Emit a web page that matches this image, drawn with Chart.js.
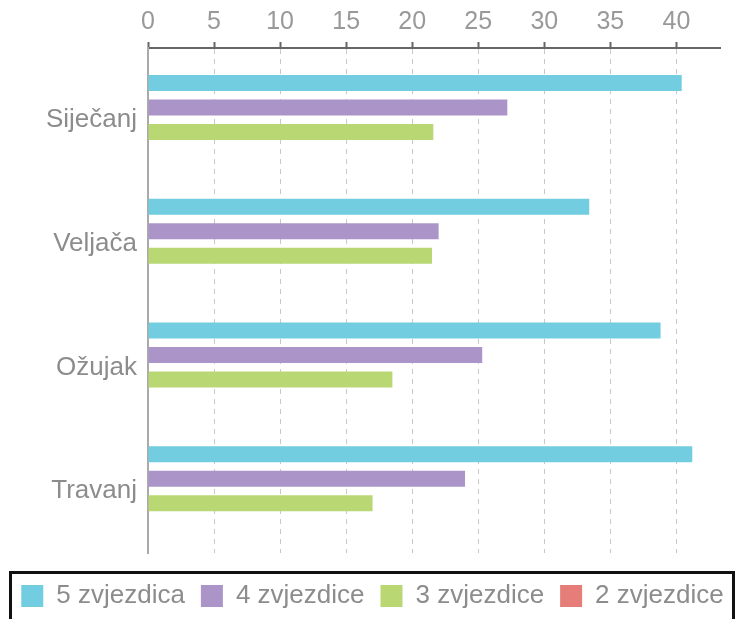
<!DOCTYPE html>
<html>
<head>
<meta charset="utf-8">
<script src="https://cdn.jsdelivr.net/npm/chart.js@4"></script>
<style>
    html, body { margin: 0; padding: 0; background: #fff; }
</style>
</head>
<body>
<canvas id="myChart" width="745" height="619"></canvas>
<script>
let months = ['Siječanj', 'Veljača', 'Ožujak', 'Travanj'];
let seriesNames = ['5 zvjezdica', '4 zvjezdice', '3 zvjezdice', '2 zvjezdice'];
let fiveStars = [40.4, 33.4, 38.8, 41.2];
let fourStars = [27.2, 22.0, 25.3, 24.0];
let threeStars = [21.6, 21.5, 18.5, 17.0];
let twoStars = [0, 0, 0, 0];
let seriesColors = ['#72cde0', '#ab94c8', '#b9d873', '#e77d79'];

const fontFamily = '"Liberation Sans", Arial, sans-serif';

// black frame round the legend
const legendFrame = {
    id: 'legendFrame',
    afterDraw(chart) {
        let ctx = chart.ctx;
        let lg = chart.legend;
        ctx.save();
        ctx.strokeStyle = '#111';
        ctx.lineWidth = 3;
        ctx.strokeRect(lg.left + 10.5, lg.top + 19.5, lg.width - 22, 80);
        ctx.restore();
    }
};

const ctx = document.getElementById('myChart');
new Chart(ctx, {
    type: 'bar',
    data: {
        labels: months,
        datasets: [
            { label: seriesNames[0], data: fiveStars, backgroundColor: seriesColors[0], borderWidth: 0 },
            { label: seriesNames[1], data: fourStars, backgroundColor: seriesColors[1], borderWidth: 0 },
            { label: seriesNames[2], data: threeStars, backgroundColor: seriesColors[2], borderWidth: 0 },
            { label: seriesNames[3], data: twoStars, backgroundColor: seriesColors[3], borderWidth: 0 }
        ]
    },
    options: {
        indexAxis: 'y',
        responsive: false,
        animation: false,
        maintainAspectRatio: false,
        devicePixelRatio: 1,
        categoryPercentage: 0.792,
        barPercentage: 0.653,
        layout: { padding: 0 },
        plugins: {
            tooltip: { enabled: false },
            legend: {
                position: 'bottom',
                title: { display: true, text: ' ', font: { size: 4, lineHeight: 1 }, padding: { top: 5, bottom: 5 } },
                labels: {
                    boxWidth: 22,
                    boxHeight: 22,
                    padding: 16,
                    color: '#8c8c8c',
                    font: { family: fontFamily, size: 26 }
                }
            }
        },
        scales: {
            x: {
                position: 'top',
                min: 0,
                max: 43.3,
                afterFit: s => { s.height = 48; },
                ticks: {
                    stepSize: 5,
                    includeBounds: false,
                    maxRotation: 0,
                    autoSkip: false,
                    padding: 5,
                    color: '#999',
                    font: { family: fontFamily, size: 25 }
                },
                grid: {
                    color: '#c8c8c8',
                    lineWidth: 1,
                    tickLength: 6,
                    tickColor: '#666',
                    tickWidth: 2
                },
                border: { color: '#666', width: 2, dash: [5, 5] }
            },
            y: {
                afterFit: s => { s.width = 148; },
                afterBuildTicks: s => { s._startValue = -0.58; s._valueRange = 4.08; },
                ticks: {
                    padding: 11,
                    color: '#8c8c8c',
                    font: { family: fontFamily, size: 26 }
                },
                grid: { display: false, drawTicks: false },
                border: { color: '#aaa', width: 2 }
            },
            // empty strip on the right so the plot ends at 720px
            yRight: {
                type: 'category',
                position: 'right',
                afterFit: s => { s.width = 25; },
                ticks: { display: false },
                grid: { display: false, drawTicks: false },
                border: { display: false }
            }
        }
    },
    plugins: [legendFrame]
});
</script>
</body>
</html>
